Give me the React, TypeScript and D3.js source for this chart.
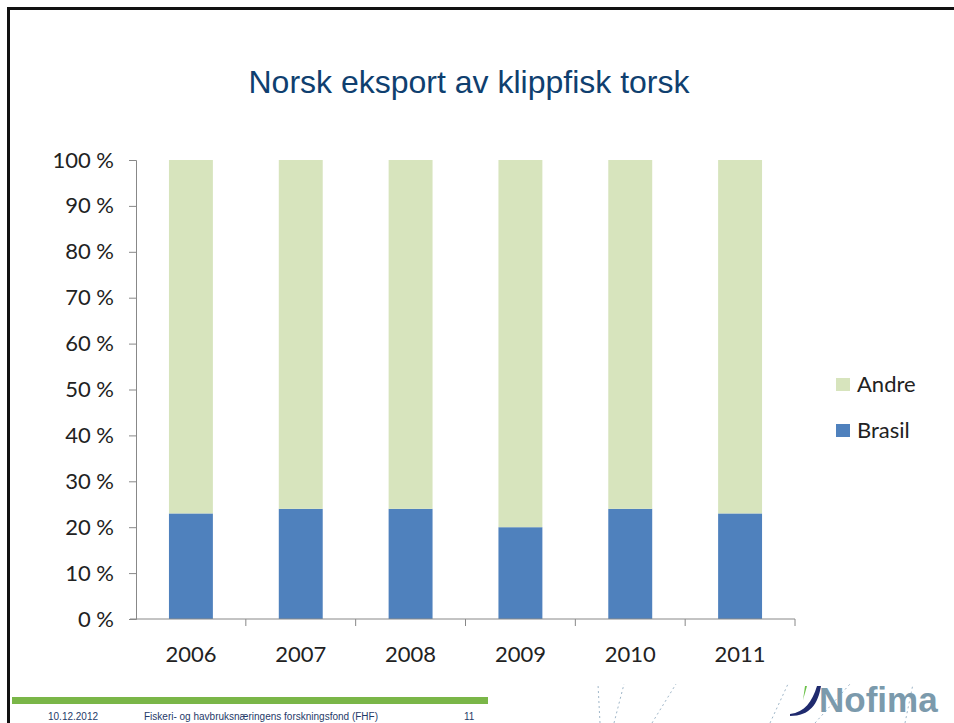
import React, { useEffect, useRef } from 'react';
import * as d3 from 'd3';

const years = ['2006', '2007', '2008', '2009', '2010', '2011'];
const brasil = [23, 24, 24, 20, 24, 23];
const andre = [77, 76, 76, 80, 76, 77];
const seriesNames = ['Andre', 'Brasil'];
const yTicks = [0, 10, 20, 30, 40, 50, 60, 70, 80, 90, 100];

const App = () => {
  const ref = useRef<SVGSVGElement>(null);

  useEffect(() => {
    const svg = d3.select(ref.current);
    svg.selectAll('*').remove();

    const width = 954;
    const height = 723;
    const margin = { top: 160, right: 159, bottom: 104, left: 136 };
    const font = 'Lato, "Open Sans", sans-serif';

    const colors: Record<string, string> = { Andre: '#d7e4bd', Brasil: '#4f81bd' };

    // slide frame
    svg.append('rect')
      .attr('x', 8.5).attr('y', 8.5)
      .attr('width', width).attr('height', height)
      .attr('fill', 'white')
      .attr('stroke', '#111').attr('stroke-width', 3);

    svg.append('text')
      .attr('x', 469).attr('y', 93)
      .attr('text-anchor', 'middle')
      .attr('font-family', 'Arial, "Liberation Sans", sans-serif')
      .attr('font-size', 32)
      .attr('fill', '#0f3f6f')
      .text('Norsk eksport av klippfisk torsk');

    const x = d3.scaleBand()
      .domain(years)
      .range([margin.left, width - margin.right])
      .paddingInner(0.6)
      .paddingOuter(0.3);

    const y = d3.scaleLinear()
      .domain([0, 100])
      .range([height - margin.bottom, margin.top]);

    const rows = years.map((yr, i) => ({ year: yr, Brasil: brasil[i], Andre: andre[i] }));
    const stacked = d3.stack<any>().keys(['Brasil', 'Andre'])(rows);

    svg.append('g')
      .selectAll('g')
      .data(stacked)
      .join('g')
        .attr('fill', d => colors[d.key])
      .selectAll('rect')
      .data(d => d)
      .join('rect')
        .attr('x', d => x(d.data.year)!)
        .attr('y', d => y(d[1]))
        .attr('width', x.bandwidth())
        .attr('height', d => y(d[0]) - y(d[1]));

    // y axis
    const yAxis = svg.append('g')
      .attr('transform', `translate(${margin.left},0)`)
      .call(d3.axisLeft(y).tickValues(yTicks).tickSize(7).tickPadding(15).tickFormat(d => `${d} %`));
    yAxis.select('.domain').attr('stroke', '#888');
    yAxis.selectAll('.tick line').attr('stroke', '#888');
    yAxis.selectAll('.tick text')
      .attr('font-family', font).attr('font-size', 22).attr('fill', '#222');

    // x axis with ticks at band boundaries
    const xAxisG = svg.append('g')
      .attr('transform', `translate(0,${height - margin.bottom})`);
    xAxisG.append('line')
      .attr('x1', margin.left - 6).attr('x2', width - margin.right)
      .attr('stroke', '#888');
    const step = x.step();
    const bounds = d3.range(years.length).map(i => margin.left + step * (i + 1));
    xAxisG.selectAll('.bt')
      .data(bounds)
      .join('line')
        .attr('x1', d => d).attr('x2', d => d)
        .attr('y1', 0).attr('y2', 7)
        .attr('stroke', '#888');
    xAxisG.selectAll('text')
      .data(years)
      .join('text')
        .attr('x', d => x(d)! + x.bandwidth() / 2)
        .attr('y', 43)
        .attr('text-anchor', 'middle')
        .attr('font-family', font).attr('font-size', 22).attr('fill', '#222')
        .text(d => d);

    // legend
    const legend = svg.append('g').attr('transform', 'translate(836,378)');
    seriesNames.forEach((name, i) => {
      const g = legend.append('g').attr('transform', `translate(0,${i * 46})`);
      g.append('rect').attr('width', 14).attr('height', 13).attr('fill', colors[name]);
      g.append('text')
        .attr('x', 21).attr('y', 14)
        .attr('font-family', font).attr('font-size', 22).attr('fill', '#222')
        .text(name);
    });

    // footer
    svg.append('rect')
      .attr('x', 12).attr('y', 697)
      .attr('width', 476).attr('height', 7)
      .attr('fill', '#7ab648');
    const footer = [
      { x: 48, t: '10.12.2012' },
      { x: 144, t: 'Fiskeri- og havbruksnæringens forskningsfond (FHF)' },
      { x: 464, t: '11' },
    ];
    svg.selectAll('.ft')
      .data(footer)
      .join('text')
        .attr('x', d => d.x).attr('y', 720)
        .attr('font-family', 'Arial, "Liberation Sans", sans-serif')
        .attr('font-size', 10)
        .attr('fill', '#1f3a68')
        .text(d => d.t);

    // decorative dashed strokes
    const deco = [
      [600, 723, 598, 684], [614, 723, 624, 684], [652, 723, 676, 684],
      [770, 723, 788, 684], [815, 723, 850, 684], [905, 723, 913, 684],
    ];
    svg.selectAll('.deco')
      .data(deco)
      .join('line')
        .attr('x1', d => d[0]).attr('y1', d => d[1])
        .attr('x2', d => d[2]).attr('y2', d => d[3])
        .attr('stroke', '#9fb6c8').attr('stroke-width', 1)
        .attr('stroke-dasharray', '2,3');

    // logo
    svg.append('path')
      .attr('d', 'M790,714 C805,712 812,702 817,686 L821,686 C818,704 810,716 790,716 Z')
      .attr('fill', '#1f2a6e');
    svg.append('path')
      .attr('d', 'M803,700 L805,686 L807,686 Z')
      .attr('fill', '#6cc24a');
    svg.append('text')
      .attr('x', 819).attr('y', 712)
      .attr('font-family', 'Arial, "Liberation Sans", sans-serif')
      .attr('font-weight', 'bold')
      .attr('font-size', 35)
      .attr('fill', '#7b9aac')
      .text('Nofima');
  }, []);

  return (
    <svg ref={ref} width={954} height={723}
      style={{ position: 'absolute', left: 0, top: 0, display: 'block' }} />
  );
};

export default App;
